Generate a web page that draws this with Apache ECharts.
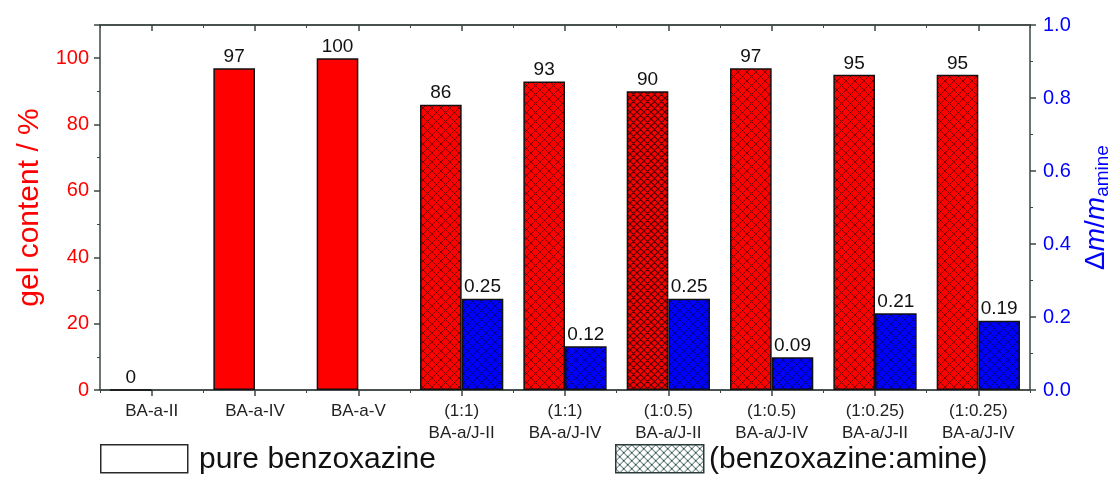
<!DOCTYPE html>
<html>
<head>
<meta charset="utf-8">
<script src="https://cdn.jsdelivr.net/npm/echarts@6/dist/echarts.min.js"></script>
<style>html,body{margin:0;padding:0;background:#fff}#c{width:1118px;height:477px}</style>
</head>
<body>
<div id="c"></div>
<script>
const categories = ['BA-a-II','BA-a-IV','BA-a-V','(1:1)\nBA-a/J-II','(1:1)\nBA-a/J-IV','(1:0.5)\nBA-a/J-II','(1:0.5)\nBA-a/J-IV','(1:0.25)\nBA-a/J-II','(1:0.25)\nBA-a/J-IV'];
const gelContent = [0, 97, 100, 86, 93, 90, 97, 95, 95];
const massGain = [null, null, null, 0.25, 0.12, 0.25, 0.09, 0.21, 0.19];
const hatched = [false, false, false, true, true, true, true, true, true];
const leftTicks = [0, 20, 40, 60, 80, 100];
const rightTicks = [0, 0.2, 0.4, 0.6, 0.8, 1.0];

function makeHatch(bg, spacing, lineColor, lw) {
  const s = spacing;
  const c = document.createElement('canvas');
  c.width = s; c.height = s;
  const g = c.getContext('2d');
  g.fillStyle = bg; g.fillRect(0, 0, s, s);
  g.strokeStyle = lineColor; g.lineWidth = lw;
  g.beginPath();
  for (let k = -s; k <= s; k += s) {
    g.moveTo(k, 0); g.lineTo(k + s, s);
    g.moveTo(k, s); g.lineTo(k + s, 0);
  }
  g.stroke();
  return c;
}
const redHatch = makeHatch('#ff0000', 9, 'rgba(0,0,0,0.5)', 1);
const redHatchDense = makeHatch('#ff0000', 7, 'rgba(0,0,0,0.7)', 1.1);
const blueHatch = makeHatch('#0000ff', 9, 'rgba(0,0,0,0.45)', 1);
const legendHatch = makeHatch('#ffffff', 8, '#2f4f4f', 1);

const chart = echarts.init(document.getElementById('c'), null, {renderer: 'canvas'});
const axisCol = '#3c4646';
const font = '"Liberation Sans", Arial, sans-serif';

const redData = gelContent.map((v, i) => ({
  value: v,
  itemStyle: hatched[i] ? {color: {image: i === 5 ? redHatchDense : redHatch, repeat: 'repeat'}} : {color: '#ff0000'}
}));
const blueData = massGain.map((v, i) => ({
  value: v,
  itemStyle: {color: {image: blueHatch, repeat: 'repeat'}}
}));

const catAxisBase = {
  type: 'category', data: categories, gridIndex: 0,
  axisLine: {show: true, lineStyle: {color: axisCol, width: 1.5}},
  splitLine: {show: false}
};

chart.setOption({
  animation: false,
  backgroundColor: '#fff',
  grid: {left: 100, right: 88, top: 25, bottom: 87, containLabel: false, outerBoundsMode: 'none'},
  xAxis: [
    Object.assign({}, catAxisBase, {
      position: 'bottom',
      axisTick: {show: true, alignWithLabel: true, length: 6, lineStyle: {color: axisCol, width: 1.5}},
      axisLabel: {show: true, interval: 0, color: '#222', fontSize: 17, fontFamily: font, lineHeight: 22, margin: 10}
    }),
    Object.assign({}, catAxisBase, {
      position: 'bottom',
      axisTick: {show: true, length: 3, lineStyle: {color: axisCol, width: 1}},
      axisLabel: {show: false}
    }),
    Object.assign({}, catAxisBase, {
      position: 'top',
      axisTick: {show: true, inside: true, alignWithLabel: true, length: 6, lineStyle: {color: axisCol, width: 1.5}},
      axisLabel: {show: false}
    }),
    Object.assign({}, catAxisBase, {
      position: 'top',
      axisTick: {show: true, inside: true, length: 3, lineStyle: {color: axisCol, width: 1}},
      axisLabel: {show: false}
    })
  ],
  yAxis: [
    {
      type: 'value', position: 'left', min: 0, max: 110, interval: 20,
      name: 'gel content / %', nameLocation: 'middle', nameRotate: 90, nameGap: 55,
      nameTextStyle: {color: '#ff0000', fontSize: 30, fontFamily: font},
      axisLine: {show: true, lineStyle: {color: axisCol, width: 1.5}},
      axisTick: {show: true, length: 6, lineStyle: {color: axisCol, width: 1.5}},
      minorTick: {show: true, splitNumber: 2, length: 3, lineStyle: {color: axisCol, width: 1}},
      axisLabel: {color: '#ff0000', fontSize: 20, fontFamily: font, margin: 11, showMaxLabel: false,
        formatter: v => leftTicks.indexOf(v) >= 0 ? String(v) : ''},
      splitLine: {show: false}
    },
    {
      type: 'value', position: 'right', min: 0, max: 1, interval: 0.2,
      name: '{a|Δ}{i|m}{a|/}{i|m}{s|amine}', nameLocation: 'middle', nameRotate: 90, nameGap: 50,
      nameTextStyle: {color: '#0000ff', fontSize: 28, fontFamily: font,
        rich: {
          a: {color: '#0000ff', fontSize: 28, fontFamily: font},
          i: {color: '#0000ff', fontSize: 28, fontFamily: font, fontStyle: 'italic'},
          s: {color: '#0000ff', fontSize: 19, fontFamily: font, padding: [13, 0, 0, 0]}
        }},
      axisLine: {show: true, lineStyle: {color: axisCol, width: 1.5}},
      axisTick: {show: true, length: 6, lineStyle: {color: axisCol, width: 1.5}},
      minorTick: {show: true, splitNumber: 2, length: 3, lineStyle: {color: axisCol, width: 1}},
      axisLabel: {color: '#0000ff', fontSize: 20, fontFamily: font, margin: 13,
        formatter: v => rightTicks.some(t => Math.abs(t - v) < 1e-9) ? v.toFixed(1) : ''},
      splitLine: {show: false}
    }
  ],
  series: [
    {
      name: 'gel content', type: 'bar', xAxisIndex: 0, yAxisIndex: 0,
      data: redData, barWidth: '40.3%', barGap: '0%',
      itemStyle: {borderColor: '#111', borderWidth: 1.5},
      label: {show: true, position: 'top', color: '#111', fontSize: 19, fontFamily: font, distance: 2}
    },
    {
      name: 'mass gain', type: 'bar', xAxisIndex: 0, yAxisIndex: 1,
      data: blueData, barWidth: '40.3%', barGap: '0%',
      itemStyle: {borderColor: '#111', borderWidth: 1.5},
      label: {show: true, position: 'top', color: '#111', fontSize: 19, fontFamily: font, distance: 2,
        formatter: p => p.value == null ? '' : p.value.toFixed(2)}
    }
  ],
  graphic: [
    {type: 'rect', left: 100, top: 444, shape: {width: 87, height: 28},
      style: {fill: '#fff', stroke: '#2a2a2a', lineWidth: 1.5}},
    {type: 'text', left: 199, top: 445,
      style: {text: 'pure benzoxazine', fill: '#111', font: '30px "Liberation Sans", Arial, sans-serif'}},
    {type: 'rect', left: 615, top: 444, shape: {width: 88, height: 28},
      style: {fill: {image: legendHatch, repeat: 'repeat'}, stroke: '#2a3a3a', lineWidth: 1.5}},
    {type: 'text', left: 709, top: 445,
      style: {text: '(benzoxazine:amine)', fill: '#111', font: '30px "Liberation Sans", Arial, sans-serif'}}
  ]
});
</script>
</body>
</html>
